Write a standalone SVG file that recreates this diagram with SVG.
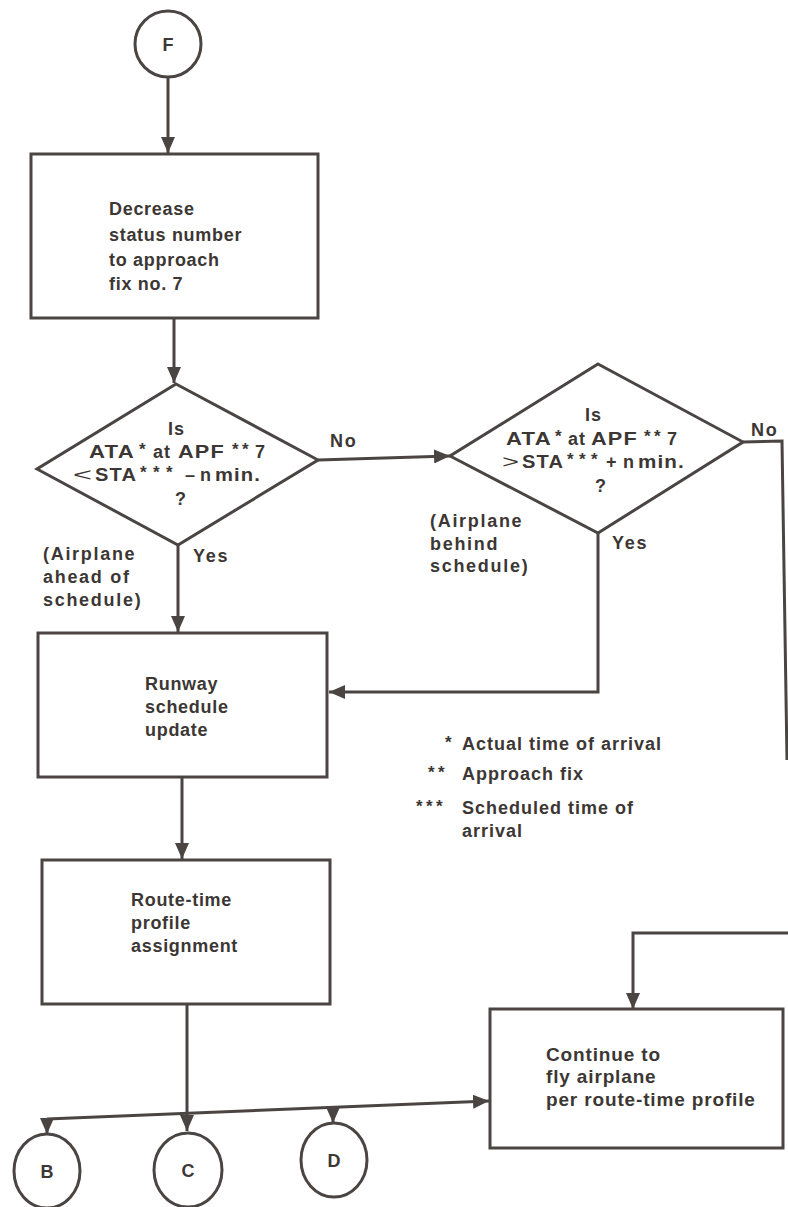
<svg xmlns="http://www.w3.org/2000/svg" width="788" height="1207" viewBox="0 0 788 1207">
<style>
.shape{fill:none;stroke:#4a4542;stroke-width:3}
.conn{fill:none;stroke:#4a4542;stroke-width:3}
text{font-family:"Liberation Sans",Arial,sans-serif;font-weight:700;font-size:18px;fill:#3c3734;letter-spacing:0.7px}
.lbl{letter-spacing:1.7px}
.big{font-size:19px;letter-spacing:0.85px}
.leg{letter-spacing:1px}
.dt{letter-spacing:1px}
.sup{font-size:17px;letter-spacing:0}
.rel{font-weight:400;font-size:19px;letter-spacing:0}
.mid{text-anchor:middle;letter-spacing:0}
</style>
<defs>
<marker id="ah" viewBox="0 0 16 14" refX="16" refY="7" markerWidth="16" markerHeight="14" markerUnits="userSpaceOnUse" orient="auto"><path d="M0,0 L16,7 L0,14 z" fill="#4a4542"/></marker>
</defs>
<rect width="788" height="1207" fill="#ffffff"/>
<g id="connectors">
<path class="conn" d="M168,78 V153" marker-end="url(#ah)"/>
<path class="conn" d="M174,318 V383" marker-end="url(#ah)"/>
<path class="conn" d="M318,460 L450,456" marker-end="url(#ah)"/>
<path class="conn" d="M178,545 V632" marker-end="url(#ah)"/>
<path class="conn" d="M598,533 V692 H329" marker-end="url(#ah)"/>
<path class="conn" d="M743,442 L782,441 L787,760"/>
<path class="conn" d="M788,933 H633 V1009" marker-end="url(#ah)"/>
<path class="conn" d="M182,777 V859" marker-end="url(#ah)"/>
<path class="conn" d="M187,1005 V1131" marker-end="url(#ah)"/>
<path class="conn" d="M47,1119 V1134" marker-end="url(#ah)"/>
<path class="conn" d="M47,1119 L489,1101" marker-end="url(#ah)"/>
<path class="conn" d="M333,1108 V1123" marker-end="url(#ah)"/>
<text class="lbl" x="330" y="447">No</text>
<text class="lbl" x="751" y="436">No</text>
<text class="lbl" x="193" y="562">Yes</text>
<text class="lbl" x="612" y="549">Yes</text>
</g>
<g id="node-F">
<circle class="shape" cx="168" cy="44" r="33"/>
<text class="mid" x="168" y="51">F</text>
</g>
<g id="node-decrease">
<rect class="shape" x="31" y="154" width="287" height="164"/>
<text x="109" y="215">Decrease<tspan x="109" dy="26">status number</tspan><tspan x="109" dy="25">to approach</tspan><tspan x="109" dy="24">fix no. 7</tspan></text>
</g>
<g id="node-decision1">
<polygon class="shape" points="176,384 318,460 178,545 37,469"/>
<text class="dt" x="168" y="435">Is</text>
<text class="dt" x="89" y="458"><tspan textLength="46" lengthAdjust="spacingAndGlyphs">ATA</tspan><tspan class="sup" x="139" y="455">*</tspan><tspan x="153" y="458">at</tspan><tspan x="178" textLength="47" lengthAdjust="spacingAndGlyphs">APF</tspan><tspan class="sup" x="232 242" y="455">**</tspan><tspan x="255" y="458">7</tspan></text>
<text class="dt" x="73" y="481"><tspan class="rel" textLength="19" lengthAdjust="spacingAndGlyphs">&lt;</tspan><tspan x="95" textLength="42" lengthAdjust="spacingAndGlyphs">STA</tspan><tspan class="sup" x="140 153 166" y="478">***</tspan><tspan x="185" y="481">–</tspan><tspan x="200">n</tspan><tspan x="215" textLength="46" lengthAdjust="spacingAndGlyphs">min.</tspan></text>
<text class="dt" x="175" y="505">?</text>
</g>
<g id="note-ahead">
<text class="lbl" x="43" y="560">(Airplane<tspan x="43" dy="23">ahead of</tspan><tspan x="43" dy="23">schedule)</tspan></text>
</g>
<g id="node-decision2">
<polygon class="shape" points="598,364 743,442 598,533 450,456"/>
<text class="dt" x="585" y="421">Is</text>
<text class="dt" x="506" y="445"><tspan textLength="46" lengthAdjust="spacingAndGlyphs">ATA</tspan><tspan class="sup" x="555" y="442">*</tspan><tspan x="568" y="445">at</tspan><tspan x="591" textLength="47" lengthAdjust="spacingAndGlyphs">APF</tspan><tspan class="sup" x="644 654" y="442">**</tspan><tspan x="667" y="445">7</tspan></text>
<text class="dt" x="502" y="468"><tspan class="rel" textLength="17" lengthAdjust="spacingAndGlyphs">&gt;</tspan><tspan x="522" textLength="42" lengthAdjust="spacingAndGlyphs">STA</tspan><tspan class="sup" x="567 579 591" y="465">***</tspan><tspan x="606" y="468">+</tspan><tspan x="623">n</tspan><tspan x="638" textLength="47" lengthAdjust="spacingAndGlyphs">min.</tspan></text>
<text class="dt" x="595" y="492">?</text>
</g>
<g id="note-behind">
<text class="lbl" x="430" y="527">(Airplane<tspan x="430" dy="23">behind</tspan><tspan x="430" dy="22">schedule)</tspan></text>
</g>
<g id="node-runway">
<rect class="shape" x="38" y="633" width="289" height="144"/>
<text x="145" y="690">Runway<tspan x="145" dy="23">schedule</tspan><tspan x="145" dy="23">update</tspan></text>
</g>
<g id="legend">
<text class="leg" x="445" y="748"><tspan class="sup">*</tspan><tspan x="462" y="750">Actual time of arrival</tspan></text>
<text class="leg" x="428 438" y="778"><tspan class="sup">**</tspan><tspan x="462" y="780">Approach fix</tspan></text>
<text class="leg" x="416 426 436" y="812"><tspan class="sup">***</tspan><tspan x="462" y="814">Scheduled time of</tspan><tspan x="462" dy="23">arrival</tspan></text>
</g>
<g id="node-route">
<rect class="shape" x="42" y="860" width="288" height="144"/>
<text x="131" y="906">Route-time<tspan x="131" dy="23">profile</tspan><tspan x="131" dy="23">assignment</tspan></text>
</g>
<g id="node-continue">
<rect class="shape" x="490" y="1009" width="293" height="139"/>
<text class="big" x="546" y="1061">Continue to<tspan x="546" dy="22">fly airplane</tspan><tspan x="546" dy="23">per route-time profile</tspan></text>
</g>
<g id="node-B">
<ellipse class="shape" cx="47" cy="1171" rx="33" ry="37"/>
<text class="mid" x="47" y="1178">B</text>
</g>
<g id="node-C">
<ellipse class="shape" cx="188" cy="1170" rx="34" ry="37"/>
<text class="mid" x="188" y="1177">C</text>
</g>
<g id="node-D">
<ellipse class="shape" cx="334" cy="1160" rx="33" ry="37"/>
<text class="mid" x="334" y="1167">D</text>
</g>
</svg>
